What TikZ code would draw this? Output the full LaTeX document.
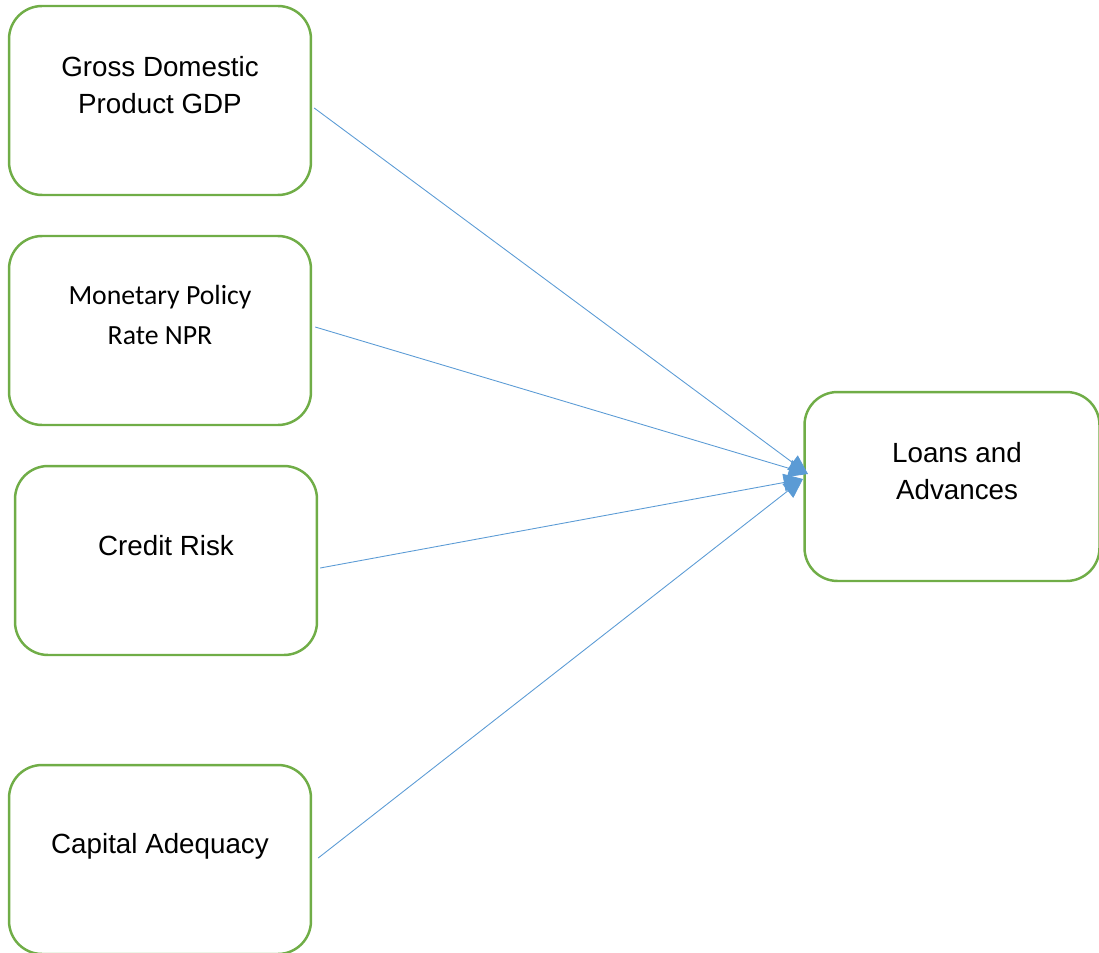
\documentclass[tikz,border=0pt]{standalone}
\usepackage{fontspec}
\setmainfont{Liberation Sans}
\newfontfamily\calibri{Carlito}
\usepackage{xcolor}
\usetikzlibrary{arrows.meta}

\definecolor{boxgreen}{HTML}{70AD47}
\definecolor{arrowblue}{HTML}{5B9BD5}

\tikzset{
  factor/.style={draw=boxgreen, line width=1.4pt, rounded corners=0.66cm,
    minimum width=6.04cm, minimum height=3.78cm},
  label text/.style={align=center, font=\fontsize{15.8}{21.5}\selectfont},
  link/.style={draw=arrowblue, line width=0.5pt, -{Triangle[length=11pt,width=10pt]}}
}

\begin{document}
\begin{tikzpicture}[x=0.02cm,y=-0.02cm]
\useasboundingbox (0,0) rectangle (1099,953);

\node[factor] (gdp) at (160,100.5) {};
\node[factor] (mpr) at (160,330.5) {};
\node[factor] (risk) at (166,560.5) {};
\node[factor] (capital) at (160,859.5) {};
\node[factor, minimum width=5.9cm] (loans) at (952,486.5) {};

\node[label text] (gdptext) at (160,85) {Gross Domestic\\Product GDP};
\node[label text, font=\calibri\fontsize{15.8}{23.2}\selectfont] (mprtext) at (160,315) {Monetary Policy\\Rate NPR};
\node[label text] (risktext) at (166,546) {Credit Risk};
\node[label text] (capitaltext) at (160,846) {Capital Adequacy};
\node[label text] (loanstext) at (957,471) {Loans and\\Advances};

\coordinate (hitA) at (808,474);
\coordinate (hitB) at (803,479);

\draw[link] ([xshift=0.04cm,yshift=-0.15cm]gdp.east) -- (hitA);
\draw[link] ([xshift=0.06cm,yshift=0.07cm]mpr.east) -- (hitA);
\draw[link] ([xshift=0.04cm,yshift=-0.15cm]risk.east) -- (hitB);
\draw[link] ([xshift=0.12cm,yshift=0.03cm]capital.east) -- (hitB);
\end{tikzpicture}
\end{document}
